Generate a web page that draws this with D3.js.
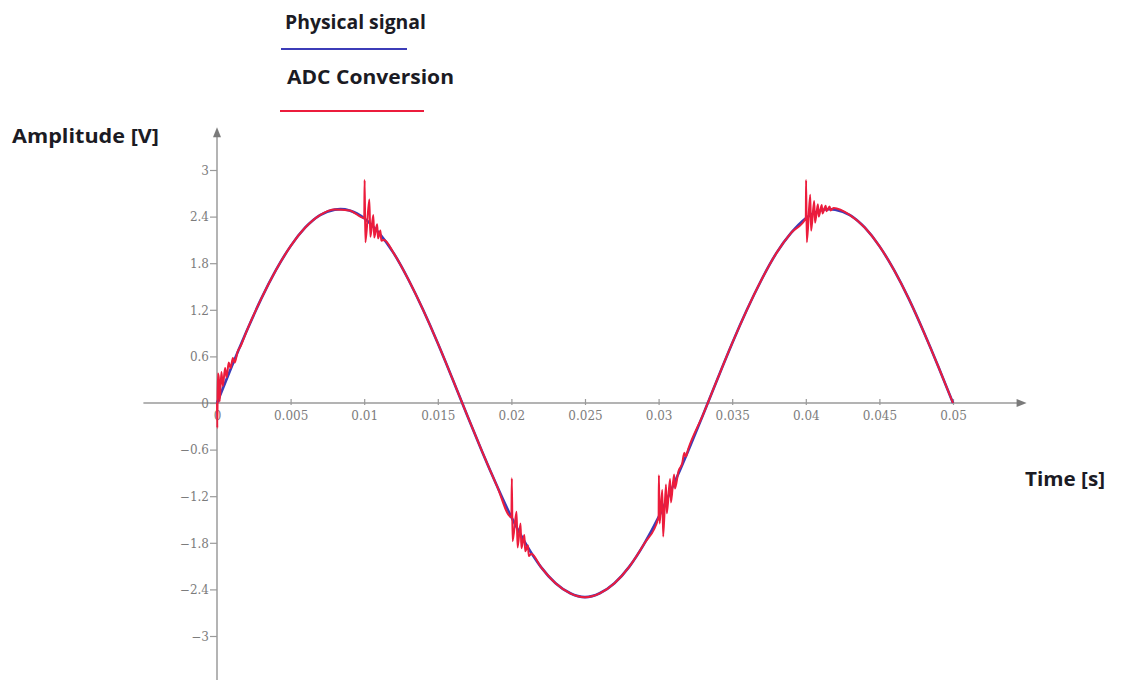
<!DOCTYPE html>
<html>
<head>
<meta charset="utf-8">
<script src="https://cdn.jsdelivr.net/npm/d3@7"></script>
<style>
  html, body { margin: 0; padding: 0; background: #ffffff; }
  svg { display: block; }
</style>
</head>
<body>
<svg id="chart" width="1121" height="680"></svg>
<script>
// Sampled physical signal (1 ms steps)
const physTime = [0, 0.001, 0.002, 0.003, 0.004, 0.005, 0.006, 0.007, 0.008, 0.009,
  0.010, 0.011, 0.012, 0.013, 0.014, 0.015, 0.016, 0.017, 0.018, 0.019,
  0.020, 0.021, 0.022, 0.023, 0.024, 0.025, 0.026, 0.027, 0.028, 0.029,
  0.030, 0.031, 0.032, 0.033, 0.034, 0.035, 0.036, 0.037, 0.038, 0.039,
  0.040, 0.041, 0.042, 0.043, 0.044, 0.045, 0.046, 0.047, 0.048, 0.049, 0.050];
const physVolts = [0, 0.47, 0.92, 1.34, 1.71, 2.02, 2.26, 2.42, 2.49, 2.48,
  2.38, 2.19, 1.93, 1.59, 1.20, 0.77, 0.31, -0.16, -0.62, -1.06,
  -1.47, -1.82, -2.11, -2.32, -2.45, -2.50, -2.45, -2.32, -2.11, -1.82,
  -1.47, -1.06, -0.62, -0.16, 0.31, 0.77, 1.20, 1.59, 1.93, 2.19,
  2.38, 2.48, 2.49, 2.42, 2.26, 2.02, 1.71, 1.34, 0.92, 0.47, 0];

// ADC output: follows the signal, with ringing after each conversion event
const adcTime = [
  0, 0.00002, 0.00006, 0.00012, 0.00018, 0.00030, 0.00040, 0.00055, 0.00065, 0.00080,
  0.00092, 0.00108, 0.00120, 0.00140, 0.00160, 0.002, 0.003, 0.004, 0.005, 0.006,
  0.007, 0.008, 0.009, 0.010,
  0.01003, 0.01008, 0.01035, 0.01042, 0.01062, 0.01068, 0.01088, 0.01094, 0.01110, 0.01116, 0.01135,
  0.012, 0.013, 0.014, 0.015, 0.016, 0.017, 0.018, 0.019, 0.020,
  0.02003, 0.02008, 0.02035, 0.02042, 0.02062, 0.02068, 0.02088, 0.02094, 0.02112, 0.02118, 0.02135,
  0.022, 0.023, 0.024, 0.025, 0.026, 0.027, 0.028, 0.029, 0.030,
  0.03002, 0.03007, 0.03025, 0.03031, 0.03050, 0.03056, 0.03078, 0.03084, 0.03105, 0.03111,
  0.03135, 0.0316, 0.03175, 0.03185, 0.032,
  0.033, 0.034, 0.035, 0.036, 0.037, 0.038, 0.039, 0.040,
  0.04002, 0.04007, 0.04030, 0.04036, 0.04057, 0.04063, 0.04082, 0.04088, 0.04108, 0.04114,
  0.04135, 0.04141, 0.04162, 0.04168, 0.04190,
  0.043, 0.044, 0.045, 0.046, 0.047, 0.048, 0.049, 0.050];
const adcVolts = [
  0, -0.32, 0.38, 0.33, 0.02, 0.40, 0.22, 0.45, 0.33, 0.52,
  0.45, 0.58, 0.52, 0.66, 0.73, 0.92, 1.34, 1.71, 2.02, 2.26,
  2.42, 2.49, 2.48, 2.38,
  2.87, 2.07, 2.62, 2.14, 2.42, 2.13, 2.30, 2.12, 2.22, 2.09, 2.10,
  1.93, 1.59, 1.20, 0.77, 0.31, -0.16, -0.62, -1.06, -1.47,
  -0.97, -1.78, -1.40, -1.86, -1.55, -1.87, -1.70, -1.91, -1.83, -1.97, -1.94,
  -2.11, -2.32, -2.45, -2.50, -2.45, -2.32, -2.11, -1.82, -1.47,
  -0.93, -1.55, -1.12, -1.72, -1.05, -1.42, -0.98, -1.28, -0.92, -1.10,
  -0.88, -0.78, -0.64, -0.69, -0.60,
  -0.16, 0.31, 0.77, 1.20, 1.59, 1.93, 2.19, 2.38,
  2.87, 2.07, 2.68, 2.22, 2.60, 2.32, 2.56, 2.40, 2.55, 2.44,
  2.54, 2.47, 2.53, 2.48, 2.51,
  2.42, 2.26, 2.02, 1.71, 1.34, 0.92, 0.47, 0];

// Axis ticks
const xTicks = [0, 0.005, 0.01, 0.015, 0.02, 0.025, 0.03, 0.035, 0.04, 0.045, 0.05];
const xTickLabels = ["0", "0.005", "0.01", "0.015", "0.02", "0.025", "0.03", "0.035", "0.04", "0.045", "0.05"];
const yTicks = [3, 2.4, 1.8, 1.2, 0.6, 0, -0.6, -1.2, -1.8, -2.4, -3];
const yTickLabels = ["3", "2.4", "1.8", "1.2", "0.6", "0", "\u22120.6", "\u22121.2", "\u22121.8", "\u22122.4", "\u22123"];
const xAxisExtent = [-0.005, 0.055];
const yAxisExtent = [-3.6, 3.55];

const legendNames = ["Physical signal", "ADC Conversion"];
const seriesColors = ["#3c3cb8", "#ec1c3c"];

const svg = d3.select("#chart");

const x = d3.scaleLinear().domain([0, 0.05]).range([217, 953]);
const y = d3.scaleLinear().domain([-3, 3]).range([636, 170]);

const axisColor = "#9a9a9a";
const labelFont = "'DejaVu Serif', serif";

// Axis lines with arrow heads
svg.append("line")
  .attr("x1", x(xAxisExtent[0])).attr("x2", x(xAxisExtent[1]) - 6)
  .attr("y1", y(0)).attr("y2", y(0))
  .attr("stroke", axisColor).attr("stroke-width", 1.5);
svg.append("path")
  .attr("d", `M${x(xAxisExtent[1])},${y(0)} l-10,-4 l0,8 z`)
  .attr("fill", "#7a7a7a");

svg.append("line")
  .attr("x1", x(0)).attr("x2", x(0))
  .attr("y1", y(yAxisExtent[1]) + 6).attr("y2", y(yAxisExtent[0]))
  .attr("stroke", "#b4b4b4").attr("stroke-width", 2);
svg.append("path")
  .attr("d", `M${x(0)},${y(yAxisExtent[1])} l-4,10 l8,0 z`)
  .attr("fill", "#7a7a7a");

// X axis ticks and labels
const xAxis = d3.axisBottom(x)
  .tickValues(xTicks)
  .tickSize(0)
  .tickPadding(0)
  .tickFormat((d, i) => xTickLabels[i]);
const gx = svg.append("g").attr("transform", `translate(0,${y(0)})`).call(xAxis);
gx.select(".domain").remove();
gx.selectAll(".tick text")
  .attr("y", 17).attr("dy", 0)
  .attr("font-family", labelFont).attr("font-size", 12)
  .attr("fill", "#7c7c7c");
gx.selectAll(".tick")
  .filter(d => d !== 0)
  .append("line")
  .attr("y1", -4).attr("y2", 2)
  .attr("stroke", axisColor).attr("stroke-width", 1.2);

// Y axis ticks and labels
const yAxis = d3.axisLeft(y)
  .tickValues(yTicks)
  .tickSize(0)
  .tickPadding(0)
  .tickFormat((d, i) => yTickLabels[i]);
const gy = svg.append("g").attr("transform", `translate(${x(0)},0)`).call(yAxis);
gy.select(".domain").remove();
gy.selectAll(".tick text")
  .attr("x", -8).attr("dy", "0.36em")
  .attr("font-family", labelFont).attr("font-size", 12)
  .attr("fill", "#7c7c7c");
gy.selectAll(".tick")
  .append("line")
  .attr("x1", -7).attr("x2", 0)
  .attr("stroke", axisColor).attr("stroke-width", 1.2);

// Signal curves
const physLine = d3.line()
  .x((d, i) => x(physTime[i]))
  .y(d => y(d))
  .curve(d3.curveNatural);
svg.append("path")
  .attr("d", physLine(physVolts))
  .attr("fill", "none")
  .attr("stroke", seriesColors[0])
  .attr("stroke-width", 2.6);

const adcLine = d3.line()
  .x((d, i) => x(adcTime[i]))
  .y(d => y(d))
  .curve(d3.curveMonotoneX);
svg.append("path")
  .attr("d", adcLine(adcVolts))
  .attr("fill", "none")
  .attr("stroke", seriesColors[1])
  .attr("stroke-width", 2)
  .attr("stroke-linejoin", "round");

// Legend and axis titles
const titleFont = "'Open Sans', Lato, sans-serif";
function title(text, tx, ty, width) {
  svg.append("text")
    .attr("x", tx).attr("y", ty)
    .attr("font-family", titleFont).attr("font-weight", 700).attr("font-size", 20)
    .attr("fill", "#1b1b24")
    .attr("textLength", width).attr("lengthAdjust", "spacingAndGlyphs")
    .text(text);
}
const legend = [
  { text: legendNames[0], tx: 285, ty: 29, w: 141, lx1: 281, lx2: 407, ly: 49, color: seriesColors[0] },
  { text: legendNames[1], tx: 287, ty: 84, w: 167, lx1: 280, lx2: 424, ly: 111, color: seriesColors[1] }
];
legend.forEach(l => {
  title(l.text, l.tx, l.ty, l.w);
  svg.append("line")
    .attr("x1", l.lx1).attr("x2", l.lx2)
    .attr("y1", l.ly).attr("y2", l.ly)
    .attr("stroke", l.color).attr("stroke-width", 2);
});

title("Amplitude [V]", 12, 143, 147);
title("Time [s]", 1025, 486, 80);
</script>
</body>
</html>
